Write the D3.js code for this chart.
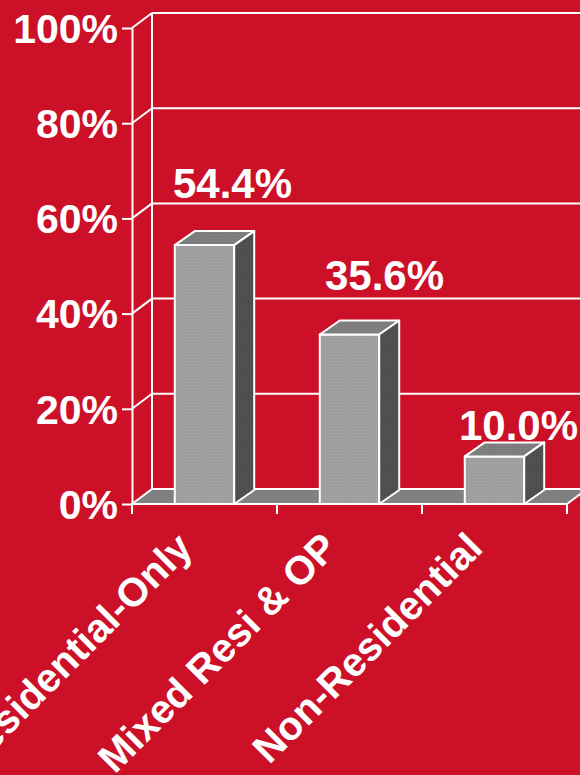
<!DOCTYPE html>
<html>
<head>
<meta charset="utf-8">
<script src="https://cdn.jsdelivr.net/npm/d3@7/dist/d3.min.js"></script>
<style>
  html, body { margin: 0; padding: 0; background: #CB1027; }
  svg { display: block; }
  text { font-family: "Liberation Sans", Arial, sans-serif; font-weight: bold; fill: #fff; }
</style>
</head>
<body>
<svg id="chart" width="580" height="775"></svg>
<script>
// Share of schemes by use type
const categories = ["Residential-Only", "Mixed Resi & OP", "Non-Residential"];
const shares = [54.4, 35.6, 10.0];
const valueLabels = ["54.4%", "35.6%", "10.0%"];
const yTicks = [0, 20, 40, 60, 80, 100];

const W = 580, H = 775;
const bg = "#CB1027";
const depthX = 20, depthY = -15;     // back wall offset
const barDX = 20, barDY = -14;       // bar depth

// per-label nudges relative to the bar's front centre (layout only)
const labelNudge = [
  { dx: 28, baseline: -47 },
  { dx: 35, baseline: -44.5 },
  { dx: 24, baseline: -16 }
];

const svg = d3.select("#chart");
svg.append("rect").attr("width", W).attr("height", H).attr("fill", bg);

const x = d3.scaleBand().domain(categories).range([132, 567]).padding(0);
const y = d3.scaleLinear().domain([0, 100]).range([504, 28]);

const x0 = x.range()[0], x1 = x.range()[1];
const y0 = y(0);

// dotted texture for bar fronts
const defs = svg.append("defs");
const pat = defs.append("pattern").attr("id", "dots")
  .attr("width", 3).attr("height", 3).attr("patternUnits", "userSpaceOnUse");
pat.append("rect").attr("width", 3).attr("height", 3).attr("fill", "#9E9E9E");
pat.append("rect").attr("x", 1).attr("y", 1).attr("width", 1).attr("height", 1).attr("fill", "#ABABAB");
const patS = defs.append("pattern").attr("id", "dotsDark")
  .attr("width", 3).attr("height", 3).attr("patternUnits", "userSpaceOnUse");
patS.append("rect").attr("width", 3).attr("height", 3).attr("fill", "#4E4E4E");
patS.append("rect").attr("x", 1).attr("y", 1).attr("width", 1).attr("height", 1).attr("fill", "#595959");
const patT = defs.append("pattern").attr("id", "dotsMid")
  .attr("width", 3).attr("height", 3).attr("patternUnits", "userSpaceOnUse");
patT.append("rect").attr("width", 3).attr("height", 3).attr("fill", "#7C7C7C");
patT.append("rect").attr("x", 1).attr("y", 1).attr("width", 1).attr("height", 1).attr("fill", "#888888");

const line = (g, a, b, c, d) => g.append("line")
  .attr("x1", a).attr("y1", b).attr("x2", c).attr("y2", d)
  .attr("stroke", "#fff").attr("stroke-width", 2);

// back wall gridlines
const grid = svg.append("g");
yTicks.filter(t => t > 0).forEach(t => {
  line(grid, x0 + depthX, y(t) + depthY, x1 + depthX, y(t) + depthY);
});
line(grid, x0 + depthX, y(100) + depthY, x0 + depthX, y0 + depthY);

// floor
svg.append("polygon")
  .attr("points", [[x0, y0], [x1, y0], [x1 + depthX, y0 + depthY], [x0 + depthX, y0 + depthY]].join(" "))
  .attr("fill", "#808080").attr("stroke", "#fff").attr("stroke-width", 2).attr("stroke-linejoin", "miter");

// side wall connectors
yTicks.filter(t => t > 0).forEach(t => {
  line(grid, x0, y(t), x0 + depthX, y(t) + depthY);
});

// value axis
const yAxis = d3.axisLeft(y).tickValues(yTicks).tickSize(10).tickSizeOuter(0).tickFormat(d => d + "%");
const yg = svg.append("g").attr("transform", `translate(${x0},0)`).call(yAxis);
yg.select(".domain").attr("stroke", "#fff").attr("stroke-width", 2);
yg.selectAll(".tick line").attr("stroke", "#fff").attr("stroke-width", 2);
yg.selectAll(".tick text")
  .attr("x", -14).attr("dy", "0.35em")
  .style("font-size", "41px").style("font-family", "'Liberation Sans', Arial, sans-serif")
  .style("font-weight", "bold").attr("fill", "#fff");
// axis line continues down to the category tick
line(svg, x0, y0, x0, y0 + 10);

// category ticks at band edges
const edges = categories.map(c => x(c)).concat([x1]);
edges.forEach(e => line(svg, e, y0, e, y0 + 10));

// bars
const barW = x.bandwidth() * 0.41;
const bars = svg.append("g");
categories.forEach((c, i) => {
  const cx = x(c) + x.bandwidth() / 2;
  const bx0 = cx - barW / 2, bx1 = cx + barW / 2;
  const by = y(shares[i]);
  const g = bars.append("g");
  g.append("polygon")
    .attr("points", [[bx0, by], [bx1, by], [bx1, y0], [bx0, y0]].join(" "))
    .attr("fill", "url(#dots)").attr("stroke", "#fff").attr("stroke-width", 2);
  g.append("polygon")
    .attr("points", [[bx0, by], [bx1, by], [bx1 + barDX, by + barDY], [bx0 + barDX, by + barDY]].join(" "))
    .attr("fill", "url(#dotsMid)").attr("stroke", "#fff").attr("stroke-width", 2).attr("stroke-linejoin", "round");
  g.append("polygon")
    .attr("points", [[bx1, by], [bx1 + barDX, by + barDY], [bx1 + barDX, y0 + barDY], [bx1, y0]].join(" "))
    .attr("fill", "url(#dotsDark)").attr("stroke", "#fff").attr("stroke-width", 2).attr("stroke-linejoin", "round");
});

// value labels
categories.forEach((c, i) => {
  const cx = x(c) + x.bandwidth() / 2;
  svg.append("text")
    .attr("x", cx + labelNudge[i].dx)
    .attr("y", y(shares[i]) + labelNudge[i].baseline)
    .attr("text-anchor", "middle")
    .style("font-size", "42px")
    .text(valueLabels[i]);
});

// category labels, slanted
categories.forEach(c => {
  const cx = x(c) + x.bandwidth() / 2;
  svg.append("text")
    .attr("transform", `translate(${cx - 10},${y0 + 46}) rotate(-45)`)
    .attr("text-anchor", "end")
    .style("font-size", "40px")
    .text(c);
});
</script>
</body>
</html>
